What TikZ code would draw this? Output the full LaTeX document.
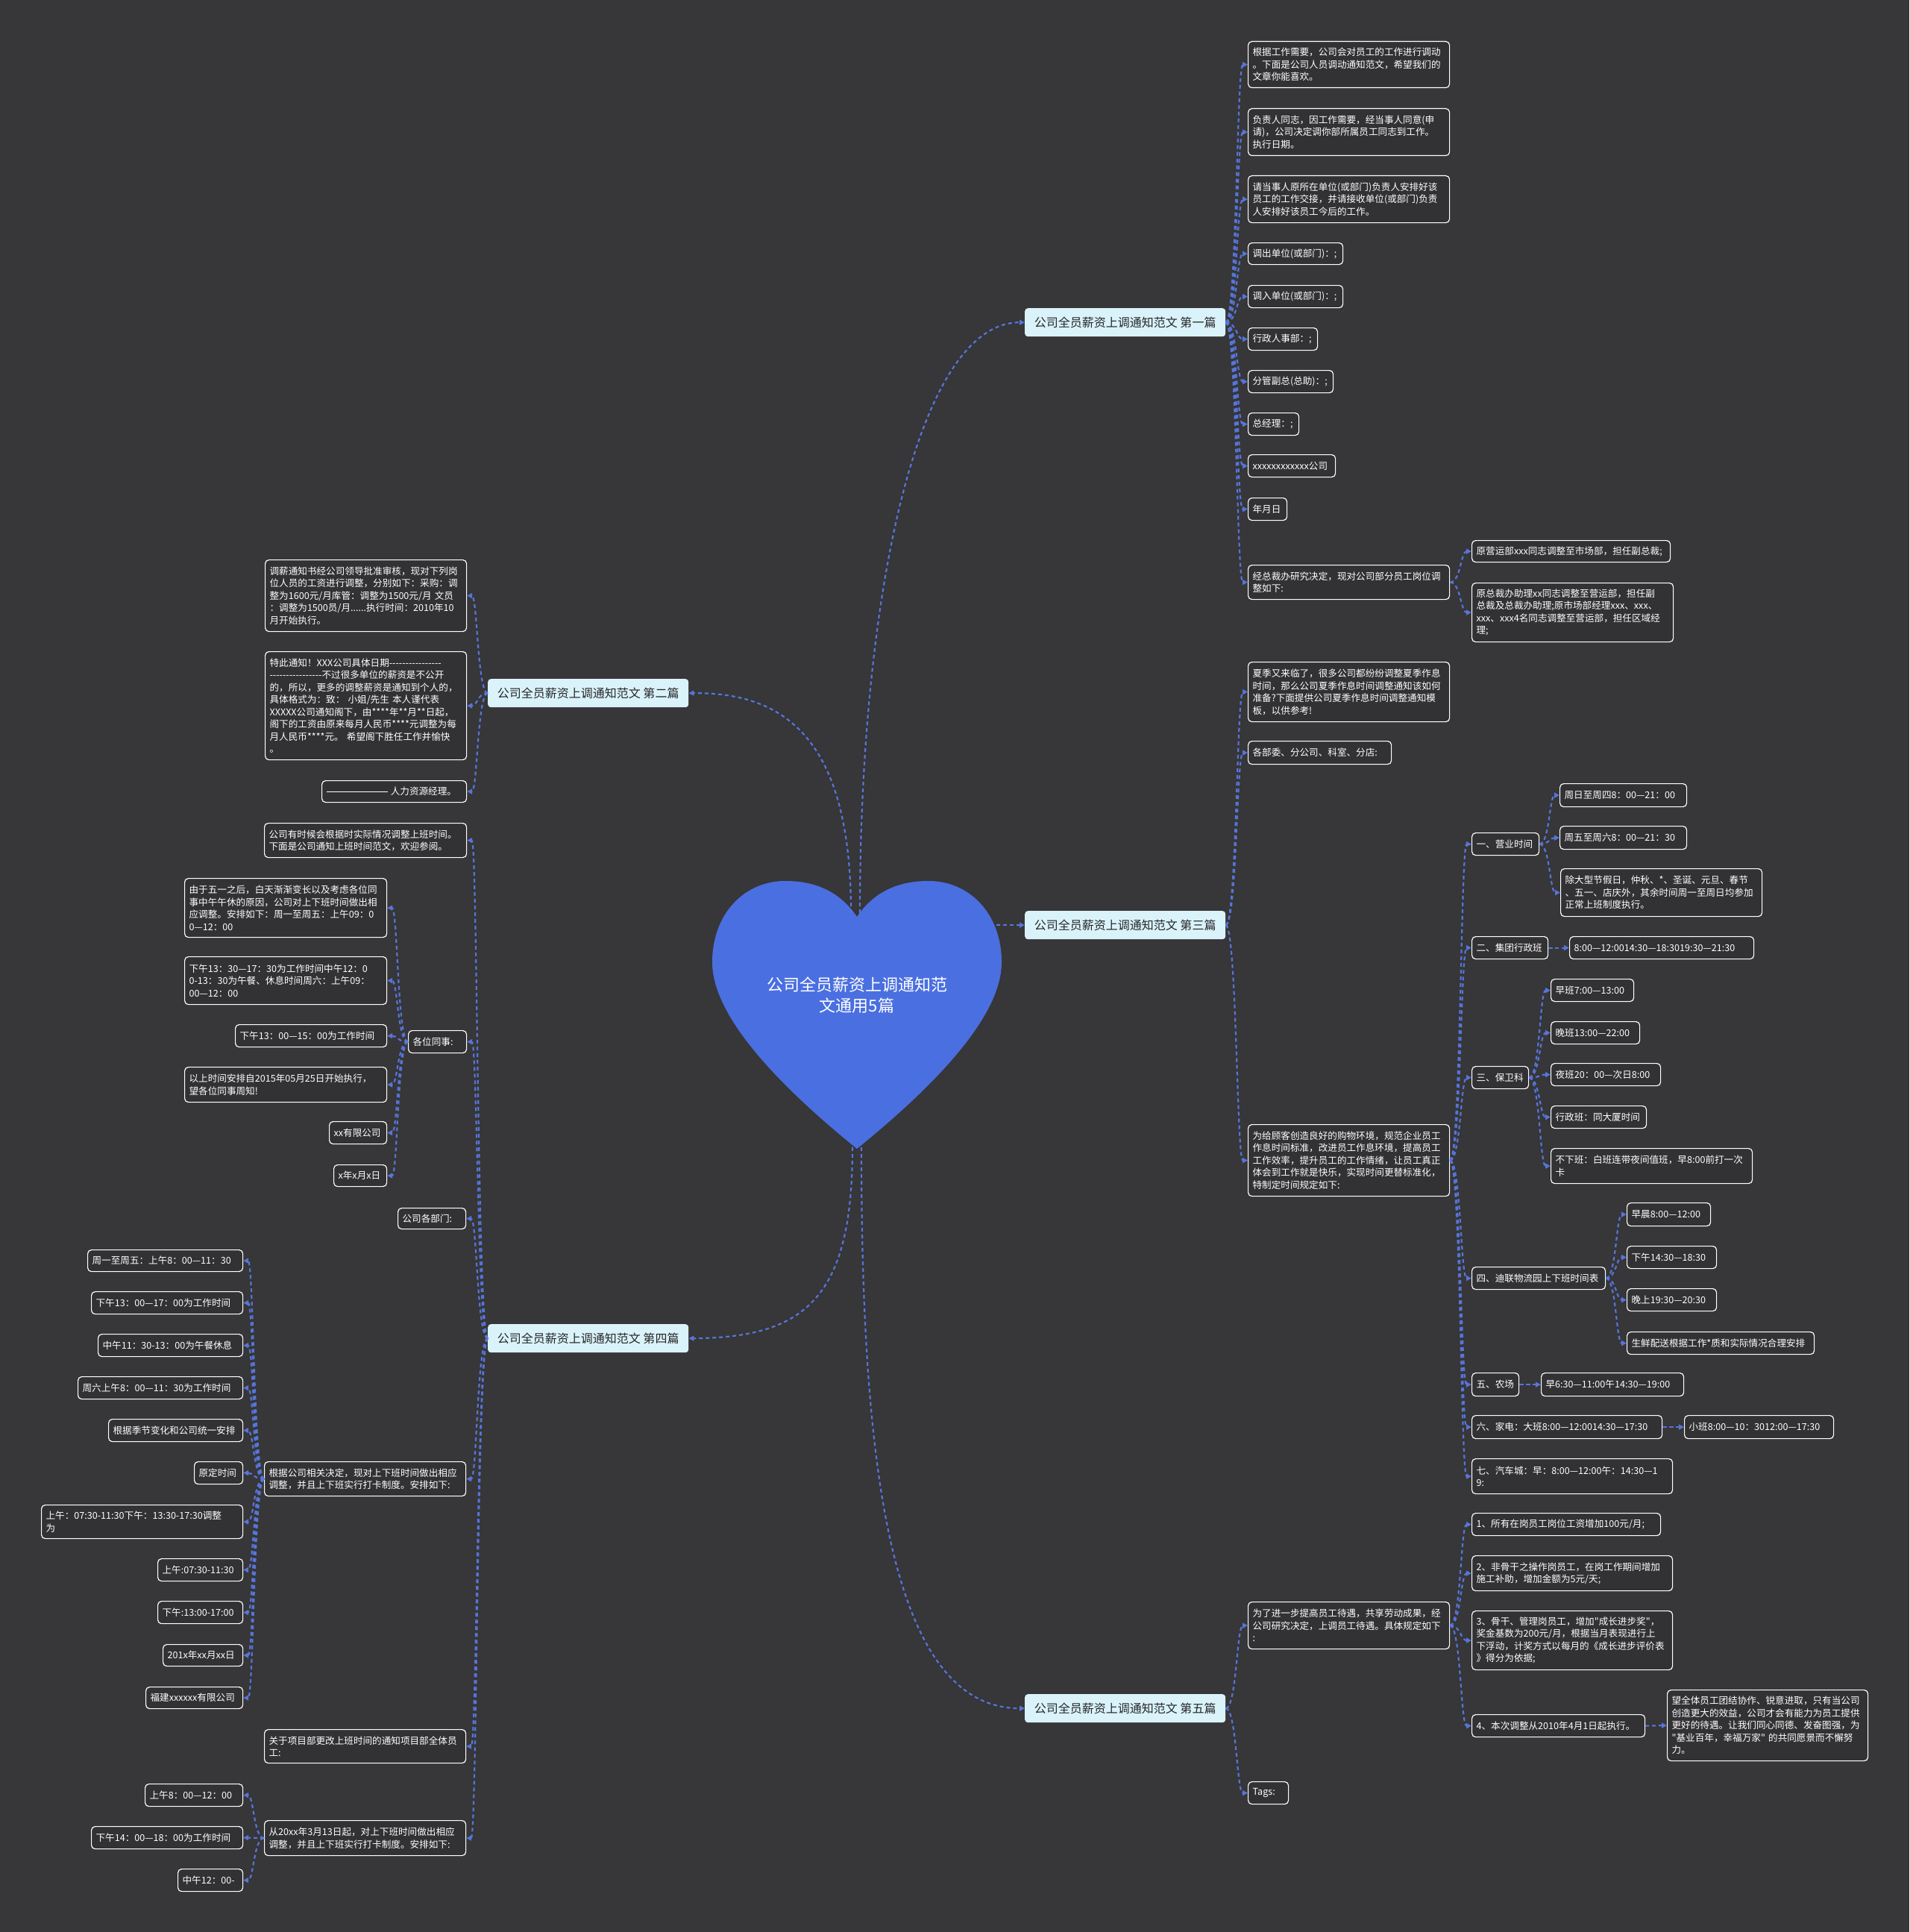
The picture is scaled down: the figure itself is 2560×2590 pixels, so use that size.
\documentclass[tikz,border=0pt]{standalone}
\usepackage{fontspec}
\newfontfamily\cjk{Noto Sans CJK SC}
\setmainfont{Noto Sans CJK SC}
\usetikzlibrary{arrows.meta,calc}
\definecolor{bg}{HTML}{373638}
\definecolor{leafbg}{HTML}{323133}
\definecolor{heartblue}{HTML}{4A6FE0}
\definecolor{branchbg}{HTML}{DAF3FB}
\definecolor{connblue}{HTML}{5675D8}
\newcommand\hh{-\kern0pt}
\tikzset{
  leaf/.style={draw=white, line width=1.2pt, fill=leafbg, rounded corners=5pt, text=white,
    font=\cjk\fontsize{12.6}{16.5}\selectfont, align=left, inner xsep=6pt, inner ysep=4pt, anchor=north west},
  branch/.style={fill=branchbg, rounded corners=4pt, text=black!85, font=\cjk\fontsize{16}{19}\selectfont,
    minimum width=269pt, minimum height=38pt, inner sep=0pt, anchor=north west, align=center},
  conn/.style={draw=connblue, line width=2.2pt, dash pattern=on 5pt off 4pt, -{Triangle[length=7pt,width=7pt]}},
  htext/.style={text=white, font=\cjk\fontsize{22}{28}\selectfont, align=center}
}
\newcommand\lf[6]{\pgfmathsetmacro\tw{#4-12}\node[leaf,minimum width=#4pt,minimum height=#5pt,text width=\tw pt] (#1) at (#2,#3) {#6};}
\newcommand\lkR[2]{\path ($(#1.east)!0.5!(#2.west)$) coordinate (mid); \draw[conn] (#1.east) .. controls (mid |- #1.east) and (mid |- #2.west) .. (#2.west);}
\newcommand\lkL[2]{\path ($(#1.west)!0.5!(#2.east)$) coordinate (mid); \draw[conn] (#1.west) .. controls (mid |- #1.west) and (mid |- #2.east) .. (#2.east);}
\begin{document}
\begin{tikzpicture}[x=1pt,y=-1pt]
\fill[bg] (0,0) rectangle (2560,2590);
\useasboundingbox (0,0) rectangle (2560,2590);
% heart
\fill[heartblue] (1149,1229) .. controls (1172,1195) and (1205,1181) .. (1245,1181)
 .. controls (1300,1181) and (1343,1225) .. (1343,1290)
 .. controls (1343,1360) and (1260,1450) .. (1149,1540)
 .. controls (1038,1450) and (955,1360) .. (955,1290)
 .. controls (955,1225) and (998,1181) .. (1053,1181)
 .. controls (1093,1181) and (1126,1195) .. (1149,1229) -- cycle;
\node[htext] (root) at (1149,1334) {公司全员薪资上调通知范\\文通用5篇};
\coordinate (ht1) at (1141,1224);
\coordinate (ht2) at (1153,1224);
\coordinate (hb1) at (1143,1538);
\coordinate (hb2) at (1155,1538);
\coordinate (hr) at (1336,1240);
% branches
\node[branch] (B1) at (1374,413) {公司全员薪资上调通知范文 第一篇};
\node[branch] (B2) at (654,910) {公司全员薪资上调通知范文 第二篇};
\node[branch] (B3) at (1374,1221) {公司全员薪资上调通知范文 第三篇};
\node[branch] (B4) at (654,1775) {公司全员薪资上调通知范文 第四篇};
\node[branch] (B5) at (1374,2271) {公司全员薪资上调通知范文 第五篇};
% branch 1
\lf{A1}{1673}{55}{270}{62}{根据工作需要，公司会对员工的工作进行调动\\。下面是公司人员调动通知范文，希望我们的\\文章你能喜欢。}
\lf{A2}{1673}{145}{270}{63}{负责人同志，因工作需要，经当事人同意(申\\请)，公司决定调你部所属员工同志到工作。\\执行日期。}
\lf{A3}{1673}{235}{270}{63}{请当事人原所在单位(或部门)负责人安排好该\\员工的工作交接，并请接收单位(或部门)负责\\人安排好该员工今后的工作。}
\lf{A4}{1673}{325}{127}{29}{调出单位(或部门)：;}
\lf{A5}{1673}{382}{127}{30}{调入单位(或部门)：;}
\lf{A6}{1673}{439}{93}{30}{行政人事部：;}
\lf{A7}{1673}{496}{114}{30}{分管副总(总助)：;}
\lf{A8}{1673}{553}{68}{30}{总经理：;}
\lf{A9}{1673}{609}{117}{30}{xxxxxxxxxxxx公司}
\lf{A10}{1673}{667}{52}{30}{年月日}
\lf{A11}{1673}{757}{270}{46}{经总裁办研究决定，现对公司部分员工岗位调\\整如下:}
\lf{A11a}{1973}{724}{266}{29}{原营运部xxx同志调整至市场部，担任副总裁;}
\lf{A11b}{1973}{781}{270}{79}{原总裁办助理xx同志调整至营运部，担任副\\总裁及总裁办助理;原市场部经理xxx、xxx、\\xxx、xxx4名同志调整至营运部，担任区域经\\理;}
% branch 3
\lf{C1}{1673}{887}{270}{80}{夏季又来临了，很多公司都纷纷调整夏季作息\\时间，那么公司夏季作息时间调整通知该如何\\准备?下面提供公司夏季作息时间调整通知模\\板，以供参考!}
\lf{C2}{1673}{993}{192}{31}{各部委、分公司、科室、分店:}
\lf{C6}{1673}{1507}{270}{96}{为给顾客创造良好的购物环境，规范企业员工\\作息时间标准，改进员工作息环境，提高员工\\工作效率，提升员工的工作情绪，让员工真正\\体会到工作就是快乐，实现时间更替标准化，\\特制定时间规定如下:}
\lf{C3}{1973}{1116}{90}{30}{一、营业时间}
\lf{C3a}{2091}{1050}{170}{31}{周日至周四8：00—21：00}
\lf{C3b}{2091}{1107}{170}{31}{周五至周六8：00—21：30}
\lf{C3c}{2092}{1164}{270}{64}{除大型节假日，仲秋、*、圣诞、元旦、春节\\、五一、店庆外，其余时间周一至周日均参加\\正常上班制度执行。}
\lf{C4}{1973}{1255}{102}{30}{二、集团行政班}
\lf{C4a}{2104}{1255}{247}{30}{8:00—12:0014:30—18:3019:30—21:30}
\lf{C5}{1973}{1429}{76}{30}{三、保卫科}
\lf{C5a}{2079}{1312}{111}{30}{早班7:00—13:00}
\lf{C5b}{2079}{1369}{119}{30}{晚班13:00—22:00}
\lf{C5c}{2079}{1425}{147}{30}{夜班20：00—次日8:00}
\lf{C5d}{2079}{1482}{128}{30}{行政班：同大厦时间}
\lf{C5e}{2079}{1539}{270}{47}{不下班：白班连带夜间值班，早8:00前打一次\\卡}
\lf{C7}{1973}{1698}{179}{30}{四、迪联物流园上下班时间表}
\lf{C7a}{2181}{1612}{112}{31}{早晨8:00—12:00}
\lf{C7b}{2181}{1670}{120}{30}{下午14:30—18:30}
\lf{C7c}{2181}{1727}{120}{30}{晚上19:30—20:30}
\lf{C7d}{2181}{1785}{251}{30}{生鲜配送根据工作*质和实际情况合理安排}
\lf{C8}{1973}{1840}{63}{31}{五、农场}
\lf{C8a}{2066}{1840}{191}{31}{早6:30—11:00午14:30—19:00}
\lf{C9}{1973}{1897}{255}{31}{六、家电：大班8:00—12:0014:30—17:30}
\lf{C9a}{2258}{1897}{200}{31}{小班8:00—10：3012:00—17:30}
\lf{C10}{1973}{1955}{269}{47}{七、汽车城：早：8:00—12:00午：14:30—1\\9:}
% branch 5
\lf{E1}{1673}{2147}{270}{63}{为了进一步提高员工待遇，共享劳动成果，经\\公司研究决定，上调员工待遇。具体规定如下\\:}
\lf{E1a}{1973}{2028}{253}{30}{1、所有在岗员工岗位工资增加100元/月;}
\lf{E1b}{1973}{2085}{269}{47}{2、非骨干之操作岗员工，在岗工作期间增加\\施工补助，增加金额为5元/天;}
\lf{E1c}{1973}{2159}{269}{79}{3、骨干、管理岗员工，增加"成长进步奖"，\\奖金基数为200元/月，根据当月表现进行上\\下浮动，计奖方式以每月的《成长进步评价表\\》得分为依据;}
\lf{E1d}{1973}{2298}{232}{30}{4、本次调整从2010年4月1日起执行。}
\lf{E1e}{2235}{2265}{269}{95}{望全体员工团结协作、锐意进取，只有当公司\\创造更大的效益，公司才会有能力为员工提供\\更好的待遇。让我们同心同德、发奋图强，为\\"基业百年，幸福万家" 的共同愿景而不懈努\\力。}
\lf{E2}{1673}{2388}{54}{30}{Tags:}
% branch 2
\lf{L1}{355}{750}{270}{96}{调薪通知书经公司领导批准审核，现对下列岗\\位人员的工资进行调整，分别如下：采购：调\\整为1600元/月库管：调整为1500元/月 文员\\：调整为1500员/月......执行时间：2010年10\\月开始执行。}
\lf{L2}{355}{873}{270}{145}{特此通知！XXX公司具体日期\hh\hh\hh\hh\hh\hh\hh\hh\hh\hh\hh\hh\hh\hh\hh\hh\\\hh\hh\hh\hh\hh\hh\hh\hh\hh\hh\hh\hh\hh\hh\hh\hh 不过很多单位的薪资是不公开\\的，所以，更多的调整薪资是通知到个人的，\\具体格式为：致： 小姐/先生 本人谨代表\\XXXXX公司通知阁下，由****年**月**日起，\\阁下的工资由原来每月人民币****元调整为每\\月人民币****元。 希望阁下胜任工作并愉快\\。}
\lf{L3}{431}{1046}{194}{29}{\rule[0.3em]{82pt}{0.6pt} 人力资源经理。}
% branch 4
\lf{D1}{354}{1103}{271}{46}{公司有时候会根据时实际情况调整上班时间。\\下面是公司通知上班时间范文，欢迎参阅。}
\lf{D2}{547}{1381}{78}{30}{各位同事:}
\lf{D2a}{247}{1177}{271}{79}{由于五一之后，白天渐渐变长以及考虑各位同\\事中午午休的原因，公司对上下班时间做出相\\应调整。安排如下：周一至周五：上午09：0\\0—12：00}
\lf{D2b}{247}{1282}{271}{64}{下午13：30—17：30为工作时间中午12：0\\0\hh 13：30为午餐、休息时间周六：上午09：\\00—12：00}
\lf{D2c}{315}{1373}{203}{30}{下午13：00—15：00为工作时间}
\lf{D2d}{247}{1430}{271}{47}{以上时间安排自2015年05月25日开始执行，\\望各位同事周知!}
\lf{D2e}{441}{1503}{77}{30}{xx有限公司}
\lf{D2f}{447}{1561}{71}{29}{x年x月x日}
\lf{D3}{533}{1619}{91}{28}{公司各部门:}
\lf{D4}{354}{1959}{270}{46}{根据公司相关决定，现对上下班时间做出相应\\调整，并且上下班实行打卡制度。安排如下:}
\lf{D4a}{117}{1675}{208}{29}{周一至周五：上午8：00—11：30}
\lf{D4b}{122}{1731}{203}{30}{下午13：00—17：00为工作时间}
\lf{D4c}{131}{1788}{194}{30}{中午11：30\hh 13：00为午餐休息}
\lf{D4d}{104}{1845}{221}{30}{周六上午8：00—11：30为工作时间}
\lf{D4e}{145}{1902}{180}{30}{根据季节变化和公司统一安排}
\lf{D4f}{260}{1959}{65}{30}{原定时间}
\lf{D4g}{55}{2017}{270}{45}{上午：07:30\hh 11:30下午：13:30\hh 17:30调整\\为}
\lf{D4h}{211}{2089}{114}{30}{上午:07:30\hh 11:30}
\lf{D4i}{211}{2146}{114}{30}{下午:13:00\hh 17:00}
\lf{D4j}{218}{2204}{107}{29}{201x年xx月xx日}
\lf{D4k}{195}{2261}{130}{29}{福建xxxxxx有限公司}
\lf{D5}{354}{2318}{270}{45}{关于项目部更改上班时间的通知项目部全体员\\工:}
\lf{D6}{354}{2440}{270}{47}{从20xx年3月13日起，对上下班时间做出相应\\调整，并且上下班实行打卡制度。安排如下:}
\lf{D6a}{194}{2391}{131}{30}{上午8：00—12：00}
\lf{D6b}{122}{2448}{203}{30}{下午14：00—18：00为工作时间}
\lf{D6c}{238}{2505}{87}{30}{中午12：00\hh}
% heart connectors
\draw[conn] (ht2) .. controls (1153,800) and (1230,432) .. (B1.west);
\draw[conn] (ht1) .. controls (1141,1000) and (1060,928) .. (B2.east);
\draw[conn] (hr) -- (B3.west);
\draw[conn] (hb1) .. controls (1143,1740) and (1080,1793) .. (B4.east);
\draw[conn] (hb2) .. controls (1155,1950) and (1190,2290) .. (B5.west);
% branch 1 links
\foreach \c in {A1,A2,A3,A4,A5,A6,A7,A8,A9,A10,A11} {\lkR{B1}{\c}}
\lkR{A11}{A11a}\lkR{A11}{A11b}
% branch 3 links
\foreach \c in {C1,C2,C6} {\lkR{B3}{\c}}
\foreach \c in {C3,C4,C5,C7,C8,C9,C10} {\lkR{C6}{\c}}
\foreach \c in {C3a,C3b,C3c} {\lkR{C3}{\c}}
\lkR{C4}{C4a}
\foreach \c in {C5a,C5b,C5c,C5d,C5e} {\lkR{C5}{\c}}
\foreach \c in {C7a,C7b,C7c,C7d} {\lkR{C7}{\c}}
\lkR{C8}{C8a}\lkR{C9}{C9a}
% branch 5 links
\lkR{B5}{E1}\lkR{B5}{E2}
\foreach \c in {E1a,E1b,E1c,E1d} {\lkR{E1}{\c}}
\lkR{E1d}{E1e}
% branch 2 links
\foreach \c in {L1,L2,L3} {\lkL{B2}{\c}}
% branch 4 links
\foreach \c in {D1,D2,D3,D4,D5,D6} {\lkL{B4}{\c}}
\foreach \c in {D2a,D2b,D2c,D2d,D2e,D2f} {\lkL{D2}{\c}}
\foreach \c in {D4a,D4b,D4c,D4d,D4e,D4f,D4g,D4h,D4i,D4j,D4k} {\lkL{D4}{\c}}
\foreach \c in {D6a,D6b,D6c} {\lkL{D6}{\c}}
\end{tikzpicture}
\end{document}
